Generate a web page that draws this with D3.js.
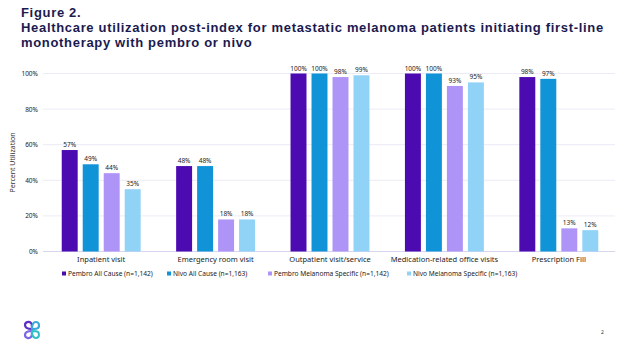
<!DOCTYPE html>
<html>
<head>
<meta charset="utf-8">
<script src="https://cdn.jsdelivr.net/npm/d3@7"></script>
<style>
  body { margin: 0; background: #fff; }
  svg { font-family: "Noto Sans", sans-serif; display: block; }
</style>
</head>
<body>
<div id="plot"></div>
<script>
// chart data
const categories = ["Inpatient visit", "Emergency room visit", "Outpatient visit/service",
                    "Medication-related office visits", "Prescription Fill"];
const seriesNames = ["Pembro All Cause (n=1,142)", "Nivo All Cause (n=1,163)",
                     "Pembro Melanoma Specific (n=1,142)", "Nivo Melanoma Specific (n=1,163)"];
const pembroAll = [57, 48, 100, 100, 98];
const nivoAll = [49, 48, 100, 100, 97];
const pembroMel = [44, 18, 98, 93, 13];
const nivoMel = [35, 18, 99, 95, 12];
const yTicks = [0, 20, 40, 60, 80, 100];
const colors = ["#4c0bb1", "#1193d8", "#af94f8", "#91d2f7"];

window.addEventListener("load", main)

function main(){
  const width = 624, height = 351;
  const series = [pembroAll, nivoAll, pembroMel, nivoMel];

  let svg = d3.select("#plot").append("svg")
    .attr("width", width)
    .attr("height", height);

  // title
  const navy = "#1b1a4f";
  const titleLines = ["Figure 2.",
    "Healthcare utilization post-index for metastatic melanoma patients initiating first-line",
    "monotherapy with pembro or nivo"];
  svg.append("g").selectAll("text")
    .data(titleLines)
    .join("text")
      .attr("x", 21).attr("y", (d, i) => 17 + i * 14.8)
      .attr("font-family", "Liberation Sans, sans-serif")
      .attr("font-size", 13).attr("font-weight", 700).attr("fill", navy)
      .attr("letter-spacing", 0.68)
      .text(d => d);

  // scales
  let x0 = d3.scaleBand()
    .domain(categories)
    .range([44, 616])
    .paddingInner(0.31)
    .paddingOuter(0.155);
  let x1 = d3.scaleBand()
    .domain(d3.range(series.length))
    .range([0, x0.bandwidth()])
    .paddingInner(0.24);
  let y = d3.scaleLinear().domain([0, 100]).range([251.5, 73.5]);

  // grid
  svg.append("g").selectAll("line")
    .data(yTicks)
    .join("line")
      .attr("x1", 43).attr("x2", 615)
      .attr("y1", d => y(d)).attr("y2", d => y(d))
      .attr("stroke", d => d === 0 ? "#d8d6ee" : "#ecebf7")
      .attr("stroke-width", 1);

  // y axis labels
  let yAxis = d3.axisLeft(y).tickValues(yTicks).tickFormat(d => d + "%").tickSize(0).tickPadding(0);
  let gy = svg.append("g").attr("transform", "translate(38,0)").call(yAxis);
  gy.select(".domain").remove();
  gy.selectAll("text").attr("font-size", 6.5).attr("fill", "#222")
    .attr("font-family", "Noto Sans, sans-serif");

  svg.append("text")
    .attr("transform", "translate(15," + y(50) + ") rotate(-90)")
    .attr("text-anchor", "middle")
    .attr("font-size", 7).attr("fill", "#333")
    .text("Percent Utilization");

  // bars
  let groups = svg.append("g").selectAll("g")
    .data(categories)
    .join("g")
      .attr("transform", d => "translate(" + x0(d) + ",0)");

  groups.selectAll("rect")
    .data((c, i) => series.map((s, k) => ({k: k, v: s[i]})))
    .join("rect")
      .attr("x", d => x1(d.k))
      .attr("width", x1.bandwidth())
      .attr("y", d => y(d.v))
      .attr("height", d => y(0) - y(d.v))
      .attr("fill", d => colors[d.k]);

  groups.selectAll("text.val")
    .data((c, i) => series.map((s, k) => ({k: k, v: s[i]})))
    .join("text")
      .attr("class", "val")
      .attr("x", d => x1(d.k) + x1.bandwidth() / 2)
      .attr("y", d => y(d.v) - 3)
      .attr("text-anchor", "middle")
      .attr("font-size", 6.5).attr("fill", "#222")
      .text(d => d.v + "%");

  // category labels
  let xAxis = d3.axisBottom(x0).tickSize(0).tickPadding(0);
  let gx = svg.append("g").attr("transform", "translate(0,256.5)").call(xAxis);
  gx.select(".domain").remove();
  gx.selectAll("text").attr("font-size", 7.5).attr("fill", "#222")
    .attr("font-family", "Noto Sans, sans-serif");

  // legend
  const legendX = [62, 167, 268, 407];
  let legend = svg.append("g").selectAll("g")
    .data(seriesNames)
    .join("g")
      .attr("transform", (d, i) => "translate(" + legendX[i] + ",275)");
  legend.append("rect").attr("x", 0).attr("y", -3.5).attr("width", 4).attr("height", 4)
    .attr("fill", (d, i) => colors[i]);
  legend.append("text").attr("x", 6).attr("y", 0.5).attr("dy", "0.1em")
    .attr("font-size", 6.6).attr("fill", "#222")
    .text(d => d);

  // logo
  let logo = svg.append("g").attr("transform", "translate(32,330)")
    .attr("fill", "none").attr("stroke-width", 2.2).attr("stroke-linecap", "round");
  logo.append("path").attr("d", "M0,-1 C-3,-1 -7,-2 -7,-5 C-7,-8 -3,-9 -1,-7 C0,-6 0,-4 0,-1")
    .attr("stroke", "#5b2fc4");
  logo.append("path").attr("d", "M0,-1 C0,-4 1,-8 4,-8 C7,-8 8,-4 6,-2 C5,-1 3,-1 0,-1")
    .attr("stroke", "#3aa9d9");
  logo.append("path").attr("d", "M0,1 C-3,1 -7,2 -7,5 C-7,8 -3,9 -1,7 C0,6 0,4 0,1")
    .attr("stroke", "#7b66e6");
  logo.append("path").attr("d", "M0,1 C0,4 1,8 4,8 C7,8 8,4 6,2 C5,1 3,1 0,1")
    .attr("stroke", "#2fc0c8");

  // page number
  svg.append("text").attr("x", 601).attr("y", 334)
    .attr("font-size", 5).attr("fill", "#333").text("2");
}
</script>
</body>
</html>
